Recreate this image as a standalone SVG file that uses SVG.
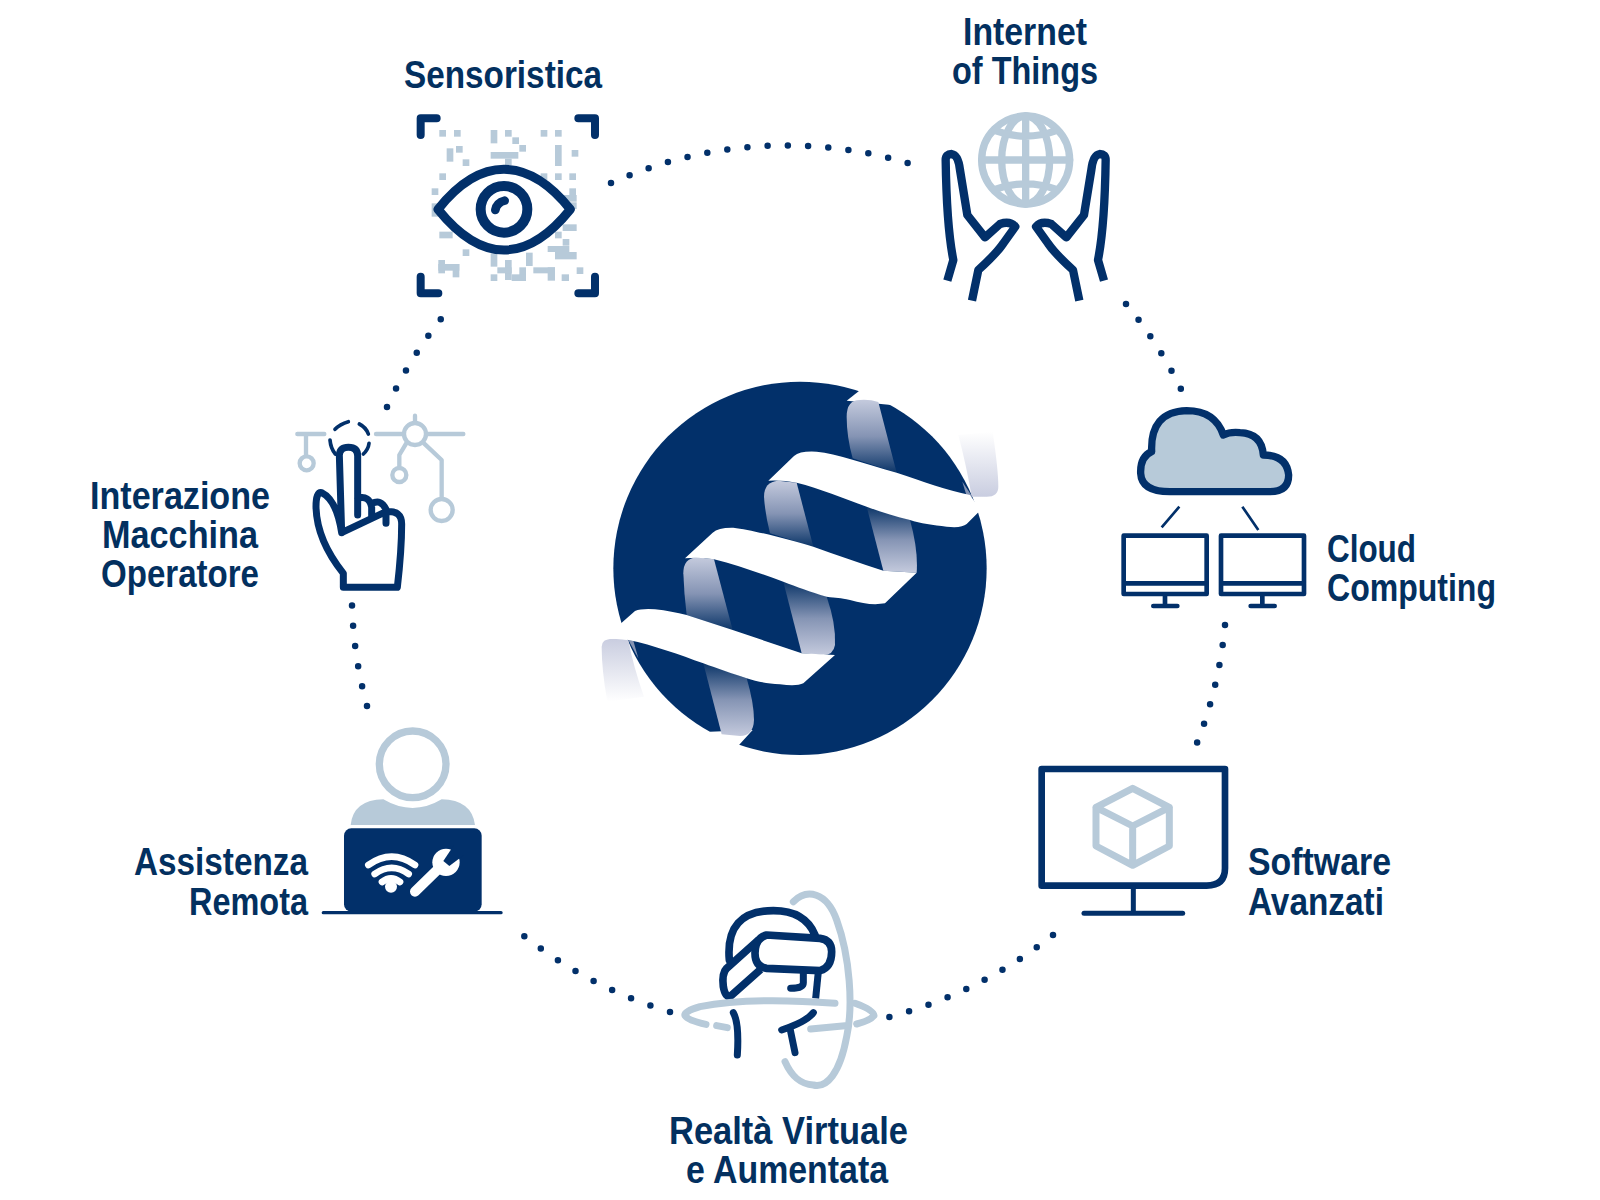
<svg xmlns="http://www.w3.org/2000/svg" width="1600" height="1200" viewBox="0 0 1600 1200">
<style>
.t{font-family:"Liberation Sans",Arial,sans-serif;font-weight:700;font-size:38px;fill:#03305f}
.n{fill:none;stroke:#02306a;stroke-linecap:round;stroke-linejoin:round}
.l{fill:none;stroke:#b7cad9;stroke-linecap:round;stroke-linejoin:round}
.q{fill:#b7cad9}
.d{fill:none;stroke:#02306a;stroke-width:6.5;stroke-linecap:round;stroke-dasharray:0 1}
.w{fill:#fff}
</style>
<defs>
<linearGradient id="gd" x1="0" y1="0" x2="0" y2="1"><stop offset="0" stop-color="#c4cadd"/><stop offset=".5" stop-color="#8594b4"/><stop offset="1" stop-color="#0c3669"/></linearGradient>
<linearGradient id="gu" x1="0" y1="0" x2="0" y2="1"><stop offset="0" stop-color="#0c3669"/><stop offset=".5" stop-color="#8594b4"/><stop offset="1" stop-color="#c4cadd"/></linearGradient>
<linearGradient id="f1" x1="0" y1="0" x2="0" y2="1"><stop offset="0" stop-color="#fff"/><stop offset="1" stop-color="#c9cde0"/></linearGradient>
<linearGradient id="f2" x1="0" y1="0" x2="0" y2="1"><stop offset="0" stop-color="#c9cde0"/><stop offset="1" stop-color="#fff"/></linearGradient>
</defs>
<rect width="1600" height="1200" fill="#fff"/>
<g id="connectors">
<path class="d" pathLength="15.02" d="M611,183 A428,428 0 0 1 908,163"/>
<path class="d" pathLength="5.02" d="M1126,304 A428,428 0 0 1 1181,389"/>
<path class="d" pathLength="6.02" d="M1225,625 A432,432 0 0 1 1197,743"/>
<path class="d" pathLength="9.02" d="M1053,935 A440,440 0 0 1 889,1017"/>
<path class="d" pathLength="8.02" d="M670,1012 A440,440 0 0 1 524,936"/>
<path class="d" pathLength="5.02" d="M367,706 A432,432 0 0 1 352,605"/>
<path class="d" pathLength="5.02" d="M387,407 A432,432 0 0 1 441,319"/>
</g>
<g id="logo" transform="translate(570,350) scale(.33333)">
<circle cx="690" cy="655" r="560" fill="#02306a"/>
<path class="w" d="M868,122L945,110L965,165L830,152Z"/>
<path class="w" d="M505,1187L548,1140L420,1145L420,1200L500,1200Z"/>
<path fill="url(#f1)" d="M1165,255L1268,245Q1285,360 1285,410Q1285,440 1250,440L1205,440Q1190,350 1165,255Z"/>
<path fill="url(#f2)" d="M95,890Q95,865 130,866L175,870Q190,950 222,1040L112,1055Q95,960 95,890Z"/>
<path fill="#8594b4" d="M1177,395L1207,440L1190,438Z"/>
<path fill="#8594b4" d="M175,870L205,925L190,872Z"/>
<path fill="url(#gd)" d="M870,150Q830,150 830,200Q830,260 848,325L980,368L925,156Q900,148 870,150Z"/>
<path fill="url(#gu)" d="M890,470L1020,510Q1045,600 1040,668L940,662Z"/>
<path fill="url(#gd)" d="M625,392Q582,395 582,440Q585,490 600,550L730,590L680,398Z"/>
<path fill="url(#gu)" d="M640,695L770,740Q798,820 795,885Q790,915 760,915L695,910Z"/>
<path fill="url(#gd)" d="M380,622Q340,625 340,670Q342,730 350,795L488,840L432,628Z"/>
<path fill="url(#gu)" d="M400,940L530,985Q552,1060 552,1110Q550,1158 510,1158L455,1153Z"/>
<path class="w" d="M595,392L672,318Q690,302 740,305C800,310 880,340 980,368C1060,395 1130,420 1200,435L1232,480L1190,522Q1175,535 1130,530C1090,525 1050,520 1020,510C970,498 930,485 890,470C820,445 750,415 680,398Q640,390 595,392Z"/>
<path class="w" d="M345,625L428,548Q445,532 490,533C550,540 660,570 730,590C800,615 870,640 940,662L1040,668L945,760Q900,768 840,750C810,742 800,745 770,740C720,725 680,710 640,695C570,670 500,645 432,628Q390,620 345,625Z"/>
<path class="w" d="M100,870L155,818L195,783Q215,775 255,778C290,782 320,788 350,795L488,840L695,910L795,915L700,1000Q680,1010 630,1003C590,1000 560,995 530,985C490,972 440,955 400,940C330,915 250,885 175,870Q140,862 100,870Z"/>
</g>
<g id="sensoristica">
<text class="t" x="404" y="88" textLength="198" lengthAdjust="spacingAndGlyphs">Sensoristica</text>
<g transform="translate(380,40) scale(.33333)">
<g class="q"><rect x="178" y="270" width="20" height="20"/><rect x="222" y="270" width="20" height="20"/><rect x="332" y="270" width="20" height="40"/><rect x="375" y="270" width="20" height="20"/><rect x="397" y="292" width="20" height="20"/><rect x="418" y="315" width="20" height="20"/><rect x="482" y="270" width="20" height="20"/><rect x="525" y="270" width="20" height="20"/><rect x="200" y="325" width="20" height="40"/><rect x="228" y="318" width="20" height="20"/><rect x="248" y="358" width="20" height="20"/><rect x="332" y="336" width="83" height="20"/><rect x="375" y="356" width="20" height="20"/><rect x="525" y="315" width="20" height="63"/><rect x="575" y="330" width="20" height="20"/><rect x="178" y="400" width="20" height="20"/><rect x="155" y="445" width="20" height="20"/><rect x="482" y="400" width="20" height="20"/><rect x="525" y="400" width="20" height="20"/><rect x="568" y="400" width="20" height="20"/><rect x="568" y="445" width="20" height="20"/><rect x="545" y="465" width="45" height="20"/><rect x="570" y="487" width="20" height="20"/><rect x="155" y="490" width="20" height="40"/><rect x="178" y="575" width="40" height="20"/><rect x="548" y="553" width="42" height="20"/><rect x="525" y="575" width="20" height="20"/><rect x="548" y="597" width="20" height="20"/><rect x="503" y="618" width="65" height="18"/><rect x="525" y="636" width="65" height="22"/><rect x="248" y="628" width="20" height="20"/><rect x="175" y="660" width="20" height="40"/><rect x="175" y="672" width="63" height="20"/><rect x="218" y="672" width="20" height="40"/><rect x="332" y="640" width="20" height="40"/><rect x="375" y="660" width="20" height="60"/><rect x="352" y="682" width="43" height="18"/><rect x="332" y="703" width="20" height="20"/><rect x="418" y="682" width="20" height="40"/><rect x="395" y="703" width="43" height="20"/><rect x="438" y="638" width="20" height="40"/><rect x="460" y="682" width="65" height="18"/><rect x="503" y="682" width="22" height="40"/><rect x="545" y="703" width="22" height="20"/><rect x="590" y="682" width="20" height="20"/></g>
<path class="n" stroke-width="27" d="M174,508C240,425 305,388 372,388C440,388 505,425 571,508C505,590 440,630 372,630C305,630 240,590 174,508Z" style="fill:#fff"/>
<circle class="n" cx="372" cy="508" r="70" stroke-width="30"/>
<path class="n" stroke-width="26" d="M346,510Q350,488 374,482"/>
<path class="n" stroke-width="24" d="M170,235H122V285M595,235H645V285M122,710V760H175M645,710V760H595"/>
</g>
</g>
<g id="iot">
<text class="t" x="963" y="45" textLength="124" lengthAdjust="spacingAndGlyphs">Internet</text>
<text class="t" x="952" y="84" textLength="146" lengthAdjust="spacingAndGlyphs">of Things</text>
<g transform="translate(880,0) scale(.33333)">
<g class="l" stroke-width="22"><circle cx="437" cy="480" r="132"/><ellipse cx="437" cy="480" rx="72" ry="132"/><path d="M437,348V612M305,480H569M345,392Q437,425 529,392M345,568Q437,535 529,568"/></g>
<path class="n" stroke-width="25" style="stroke-linecap:butt" d="M202,842L220,780Q200,680 197,480Q197,462 215,462Q235,465 240,510L262,645L315,712L360,672Q390,662 406,680L370,730Q350,760 295,810L276,902"/>
<path class="n" stroke-width="25" style="stroke-linecap:butt" d="M672,842L654,780Q674,680 677,480Q677,462 659,462Q639,465 634,510L612,645L559,712L514,672Q484,662 468,680L504,730Q524,760 579,810L598,902"/>
</g>
</g>
<g id="cloud">
<text class="t" x="1327" y="562" textLength="89" lengthAdjust="spacingAndGlyphs">Cloud</text>
<text class="t" x="1327" y="601" textLength="169" lengthAdjust="spacingAndGlyphs">Computing</text>
<g transform="translate(1090,390) scale(.33333)">
<path d="M240,305H540Q596,305 596,255Q590,195 520,195Q515,130 450,128Q420,125 400,135Q375,62 290,62Q180,65 185,185Q150,200 152,250Q155,305 240,305Z" fill="#b7cad9" stroke="#02306a" stroke-width="22" stroke-linejoin="round"/>
<path class="n" stroke-width="8" style="stroke-linecap:butt" d="M268,350L215,412M457,350L505,420"/>
<path class="n" stroke-width="14" d="M101,437H350V612H101ZM101,580H350M225,612V648M190,648H262"/>
<path class="n" stroke-width="14" d="M393,437H642V612H393ZM393,580H642M517,612V648M482,648H554"/>
</g>
</g>
<g id="software">
<text class="t" x="1248" y="875" textLength="143" lengthAdjust="spacingAndGlyphs">Software</text>
<text class="t" x="1248" y="915" textLength="136" lengthAdjust="spacingAndGlyphs">Avanzati</text>
<g transform="translate(1010,740) scale(.33333)">
<path class="n" stroke-width="20" d="M95,87H645V385Q645,437 590,437H95Z"/>
<path class="n" stroke-width="15" style="stroke-linecap:butt" d="M370,437V520"/>
<path class="n" stroke-width="15" d="M222,520H518"/>
<path class="l" stroke-width="21" d="M368,145L478,202V318L368,376L258,318V202ZM258,202L368,258L478,202M368,258V376"/>
</g>
</g>
<g id="vr">
<text class="t" x="669" y="1144" textLength="239" lengthAdjust="spacingAndGlyphs">Realtà Virtuale</text>
<text class="t" x="686" y="1183" textLength="202" lengthAdjust="spacingAndGlyphs">e Aumentata</text>
<g transform="translate(650,860) scale(.33333)">
<path class="n" stroke-width="23" d="M238,300Q225,152 370,152Q465,152 495,225"/>
<path class="n" stroke-width="23" d="M350,225L510,235Q545,240 545,275Q545,322 510,332L350,325Q315,320 315,280Q315,235 350,225Z"/>
<path class="n" stroke-width="23" style="stroke-linecap:butt" d="M325,240L230,325Q215,340 220,380Q225,410 240,410L332,328"/>
<path class="n" stroke-width="21" d="M460,335V368Q460,385 422,385"/>
<path class="n" stroke-width="21" style="stroke-linecap:butt" d="M505,335L497,415"/>
<path class="n" stroke-width="21" d="M250,458Q268,490 262,585"/>
<path class="n" stroke-width="21" d="M490,458Q470,485 395,510M420,505L435,578"/>
<path class="l" stroke-width="21" d="M555,430Q300,410 150,440Q100,455 105,467Q115,482 168,493M200,497L232,503M482,507L585,497M615,430Q670,450 672,467Q660,482 620,492"/>
<path class="l" stroke-width="21" d="M430,125C470,85 530,95 560,180C600,290 610,440 590,530C570,640 530,685 490,675C450,672 425,650 405,605"/>
</g>
</g>
<g id="assistenza">
<text class="t" x="134" y="875" textLength="174" lengthAdjust="spacingAndGlyphs">Assistenza</text>
<text class="t" x="189" y="915" textLength="119" lengthAdjust="spacingAndGlyphs">Remota</text>
<g transform="translate(300,700) scale(.33333)">
<circle class="l" cx="338" cy="193" r="100" stroke-width="22"/>
<path class="q" d="M152,375Q160,300 250,298Q338,350 425,298Q515,300 525,375Z"/>
<rect x="132" y="385" width="413" height="250" rx="22" fill="#02306a"/>
<path stroke="#02306a" stroke-width="10" stroke-linecap="round" d="M70,638H603"/>
<circle class="w" cx="273" cy="560" r="18"/>
<path fill="none" stroke="#fff" stroke-linecap="round" stroke-width="20" d="M205,495Q275,445 345,495M224,522Q275,485 326,522M246,546Q273,525 300,546"/>
<path fill="none" stroke="#fff" stroke-linecap="round" stroke-width="30" d="M345,575L425,497"/>
<circle class="w" cx="438" cy="487" r="41"/>
<path fill="#02306a" d="M430,483L462,435L492,465L448,498Z"/>
</g>
</g>
<g id="interazione">
<text class="t" x="90" y="509" textLength="180" lengthAdjust="spacingAndGlyphs">Interazione</text>
<text class="t" x="102" y="548" textLength="156" lengthAdjust="spacingAndGlyphs">Macchina</text>
<text class="t" x="101" y="587" textLength="158" lengthAdjust="spacingAndGlyphs">Operatore</text>
<g transform="translate(280,400) scale(.33333)">
<g class="l" stroke-width="13"><path d="M52,102H133M78,102V165M288,102H368M405,47V68M442,102H550M380,128L358,165V202M432,130L485,180V295"/><circle cx="80" cy="190" r="21"/><circle cx="405" cy="102" r="33"/><circle cx="358" cy="225" r="21"/><circle cx="485" cy="330" r="33"/></g>
<path class="n" stroke-width="11" d="M165,88Q180,72 205,65M238,72Q258,82 265,102M267,130Q265,148 250,162M150,120Q152,145 166,162"/>
<path class="n" stroke-width="21" d="M185,398L178,165Q180,142 205,142Q233,142 233,168V345M233,295Q268,285 275,322V355M275,312Q302,295 318,328V370M318,335Q365,330 365,372Q365,450 352,562H190V520Q110,420 108,320Q108,275 125,278Q170,300 185,398Z"/>
</g>
</g>
</svg>
